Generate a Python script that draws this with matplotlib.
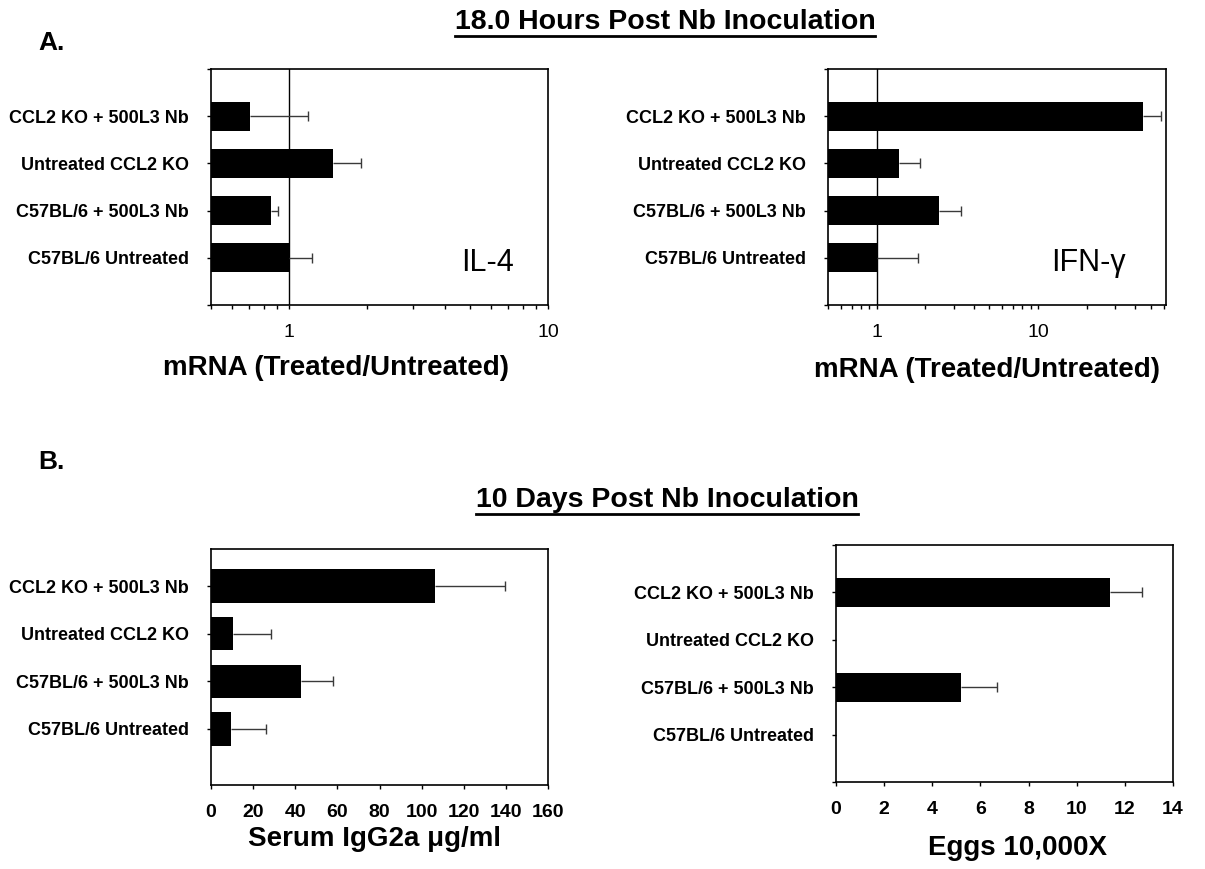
import numpy as np
import matplotlib
matplotlib.use("Agg")
import matplotlib.pyplot as plt
from matplotlib.lines import Line2D
from matplotlib.ticker import LogLocator, NullFormatter, FixedLocator, FixedFormatter

plt.rcParams['font.family'] = ['Liberation Sans', 'DejaVu Sans']

# ---------------- data ----------------
categories = ["C57BL/6 Untreated", "C57BL/6 + 500L3 Nb",
              "Untreated CCL2 KO", "CCL2 KO + 500L3 Nb"]

il4_values = [1.0, 0.85, 1.48, 0.71]
il4_errors = [0.23, 0.06, 0.41, 0.47]

ifng_values = [1.0, 2.42, 1.37, 44.7]
ifng_errors = [0.81, 0.90, 0.48, 13.0]

igg2a_values = [9.6, 42.9, 10.5, 106.3]
igg2a_errors = [16.6, 15.0, 17.9, 33.5]

eggs_values = [0.0, 5.2, 0.0, 11.4]
eggs_errors = [0.0, 1.47, 0.0, 1.31]

log_ticks = [1, 10]
igg2a_ticks = [0, 20, 40, 60, 80, 100, 120, 140, 160]
eggs_ticks = [0, 2, 4, 6, 8, 10, 12, 14]

title_a = "18.0 Hours Post Nb Inoculation"
title_b = "10 Days Post Nb Inoculation"
xlabel_mrna = "mRNA (Treated/Untreated)"
xlabel_igg = "Serum IgG2a \u03bcg/ml"
xlabel_eggs = "Eggs 10,000X"

# ---------------- figure ----------------
W, H = 1205, 869
fig = plt.figure(figsize=(W / 100, H / 100), dpi=100)
fig.patch.set_facecolor('white')


def px_rect(left, top, right, bottom):
    return [left / W, 1 - bottom / H, (right - left) / W, (bottom - top) / H]


def make_panel(rect, values, errors, xlim, ylim, bar_h, log=False,
               xticks=None, end_ticks=True, vline=None):
    ax = fig.add_axes(rect)
    pos = np.arange(1, len(categories) + 1)
    v = np.asarray(values, dtype=float)
    e = np.asarray(errors, dtype=float)
    if log:
        ax.set_xscale('log')
        base = xlim[0]
        ax.barh(pos, v - base, left=base, height=bar_h, color='black',
                edgecolor='none', zorder=3)
    else:
        ax.barh(pos, v, height=bar_h, color='black', edgecolor='none', zorder=3)
    # one-sided (positive) error bars with a cap at the outer end
    mask = v > 0
    ax.hlines(pos[mask], v[mask], v[mask] + e[mask], color='#3a3a3a',
              lw=1.0, zorder=4)
    ax.plot(v[mask] + e[mask], pos[mask], linestyle='none', marker='|',
            markersize=7, markeredgewidth=1.0, color='#3a3a3a', zorder=4)
    if vline is not None:
        ax.axvline(vline, color='black', lw=1.0, zorder=2)
    ax.set_xlim(*xlim)
    ax.set_ylim(*ylim)
    ax.set_yticks(pos)
    ax.set_yticklabels(categories, fontsize=13, fontweight='bold')
    if end_ticks:
        ax.set_yticks([0, 5], minor=True)
    if log:
        ax.xaxis.set_major_locator(FixedLocator(xticks))
        ax.xaxis.set_major_formatter(FixedFormatter([str(t) for t in xticks]))
        ax.xaxis.set_minor_locator(LogLocator(base=10, subs=np.arange(2, 10)))
        ax.xaxis.set_minor_formatter(NullFormatter())
        for lab in ax.get_xticklabels():
            lab.set_fontsize(14)
    else:
        ax.set_xticks(xticks)
        ax.set_xticklabels([str(t) for t in xticks], fontsize=14,
                           fontweight='bold')
    ax.tick_params(axis='y', which='both', direction='out', length=3,
                   width=1, pad=13)
    ax.tick_params(axis='x', which='both', direction='out', length=3,
                   width=1, pad=11)
    for s in ax.spines.values():
        s.set_linewidth(1.2)
        s.set_color('black')
    return ax


# A panels
ax1 = make_panel(px_rect(211, 69, 548, 305), il4_values, il4_errors,
                 xlim=(0.5, 10), ylim=(0, 5), bar_h=0.62, log=True,
                 xticks=log_ticks, vline=1)
ax2 = make_panel(px_rect(828, 69, 1166, 305), ifng_values, ifng_errors,
                 xlim=(0.5, 62), ylim=(0, 5), bar_h=0.62, log=True,
                 xticks=log_ticks, vline=1)
# B panels
ax3 = make_panel(px_rect(211, 549, 548, 785), igg2a_values, igg2a_errors,
                 xlim=(0, 160), ylim=(-0.18, 4.78), bar_h=0.70,
                 xticks=igg2a_ticks, end_ticks=False)
ax4 = make_panel(px_rect(836, 545, 1173, 782), eggs_values, eggs_errors,
                 xlim=(0, 14), ylim=(0, 5), bar_h=0.61,
                 xticks=eggs_ticks)


def ftext(x, y, s, **kw):
    return fig.text(x / W, 1 - y / H, s, **kw)


# x-axis titles
ftext(336, 368, xlabel_mrna, ha='center', va='center', fontsize=20,
      fontweight='bold')
ftext(987, 370, xlabel_mrna, ha='center', va='center', fontsize=20,
      fontweight='bold')
ftext(375, 839, xlabel_igg, ha='center', va='center', fontsize=20,
      fontweight='bold')
ftext(1018, 848, xlabel_eggs, ha='center', va='center', fontsize=20,
      fontweight='bold')

# in-panel labels
ftext(488, 263, "IL-4", ha='center', va='center', fontsize=22)
ftext(1088, 263, "IFN-\u03b3", ha='center', va='center', fontsize=22)

# panel letters
ftext(38, 43, "A.", ha='left', va='center', fontsize=19, fontweight='bold')
ftext(38, 462, "B.", ha='left', va='center', fontsize=19, fontweight='bold')

# underlined titles
t1 = ftext(665, 22, title_a, ha='center', va='center', fontsize=20.5,
           fontweight='bold')
t2 = ftext(667, 500, title_b, ha='center', va='center', fontsize=20.5,
           fontweight='bold')

fig.canvas.draw()
renderer = fig.canvas.get_renderer()
for t in (t1, t2):
    bb = t.get_window_extent(renderer=renderer)
    y = bb.y0 - 1
    fig.add_artist(Line2D([bb.x0 / W, bb.x1 / W], [y / H, y / H],
                          transform=fig.transFigure, color='black', lw=2))

fig.savefig("out.png", dpi=100, facecolor='white')
